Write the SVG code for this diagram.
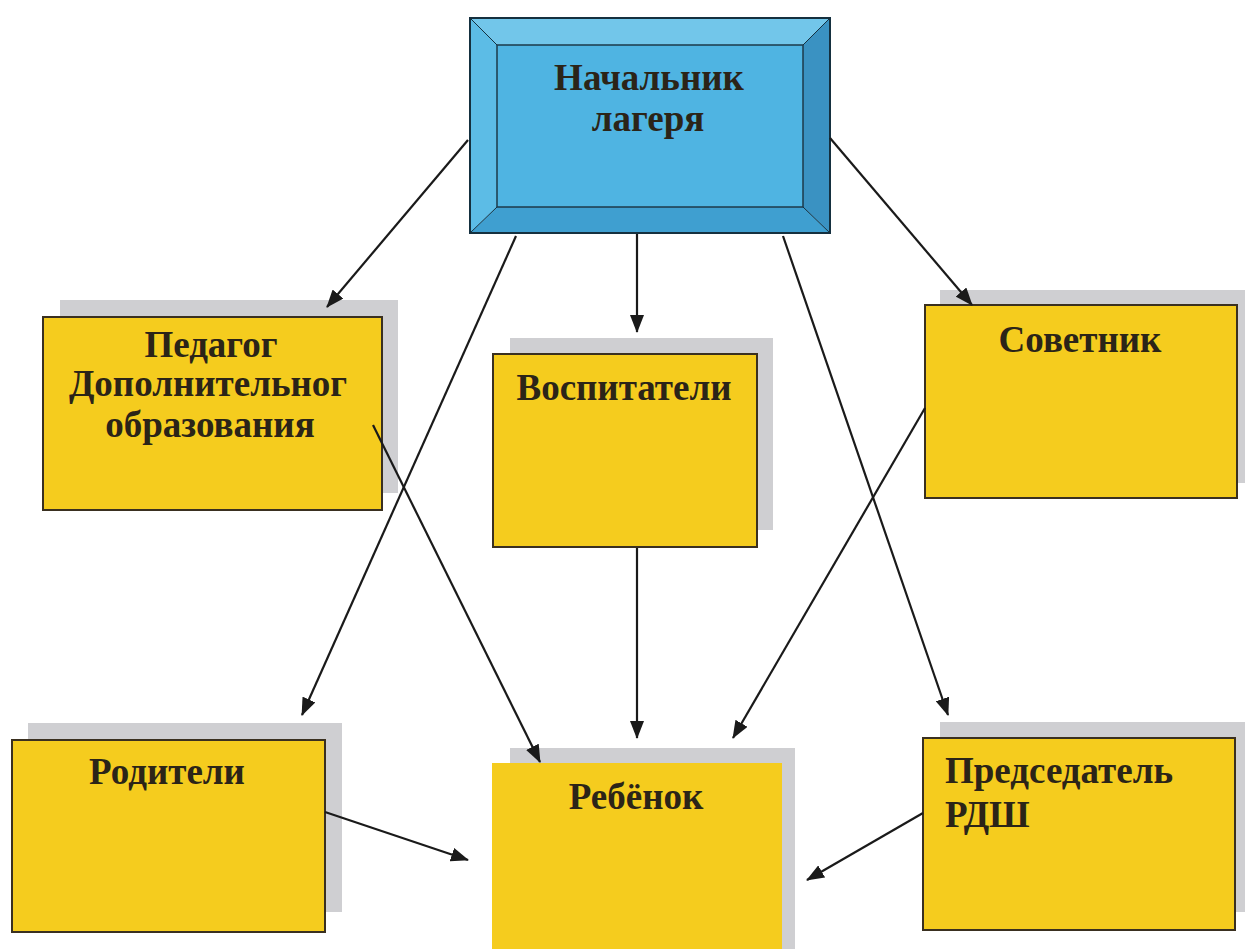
<svg xmlns="http://www.w3.org/2000/svg" width="1245" height="949" viewBox="0 0 1245 949">
  <defs>
    <marker id="arrow" viewBox="0 0 18 14" refX="17" refY="7" markerWidth="18" markerHeight="14" markerUnits="userSpaceOnUse" orient="auto">
      <path d="M0,0 L18,7 L0,14 z" fill="#1a1a1a"/>
    </marker>
  </defs>
  <style>
    .bg { fill: #ffffff; }
    .shadow { fill: #cfcfd2; }
    .box { fill: #f5cc1e; stroke: #3a3020; stroke-width: 2; }
    .box-nb { fill: #f5cc1e; }
    .lbl { font-family: "Liberation Serif", "Times New Roman", serif; font-weight: bold; font-size: 37px; fill: #2b2418; }
    .mid { text-anchor: middle; }
    .conn { stroke: #1a1a1a; stroke-width: 2.2; fill: none; marker-end: url(#arrow); }
  </style>
  <rect class="bg" x="0" y="0" width="1245" height="949"/>

  <g id="node-nachalnik">
    <polygon points="470,18 830,18 803,45 497,45" fill="#72c6ea"/>
    <polygon points="470,18 497,45 497,207 470,233" fill="#5cbce6"/>
    <polygon points="830,18 830,233 803,207 803,45" fill="#3a92c2"/>
    <polygon points="470,233 497,207 803,207 830,233" fill="#3f9fd0"/>
    <rect x="497" y="45" width="306" height="162" fill="#4fb4e2" stroke="#1d3a4a" stroke-width="1.5"/>
    <rect x="470" y="18" width="360" height="215" fill="none" stroke="#15303f" stroke-width="2"/>
    <line x1="470" y1="18" x2="497" y2="45" stroke="#15303f" stroke-width="1"/>
    <line x1="830" y1="18" x2="803" y2="45" stroke="#15303f" stroke-width="1"/>
    <line x1="470" y1="233" x2="497" y2="207" stroke="#15303f" stroke-width="1"/>
    <line x1="830" y1="233" x2="803" y2="207" stroke="#15303f" stroke-width="1"/>
    <text class="lbl mid" x="649" y="90">Начальник</text>
    <text class="lbl mid" x="648" y="131">лагеря</text>
  </g>

  <g id="node-pedagog">
    <rect class="shadow" x="60" y="300" width="338" height="193"/>
    <rect class="box" x="43" y="317" width="339" height="193"/>
    <text class="lbl mid" x="211" y="357">Педагог</text>
    <text class="lbl mid" x="208" y="396">Дополнительног</text>
    <text class="lbl mid" x="210" y="437">образования</text>
  </g>

  <g id="node-vospitateli">
    <rect class="shadow" x="510" y="338" width="263" height="192"/>
    <rect class="box" x="493" y="354" width="264" height="193"/>
    <text class="lbl mid" x="624" y="400">Воспитатели</text>
  </g>

  <g id="node-sovetnik">
    <rect class="shadow" x="940" y="290" width="305" height="193"/>
    <rect class="box" x="925" y="305" width="312" height="193"/>
    <text class="lbl mid" x="1080" y="352">Советник</text>
  </g>

  <g id="node-roditeli">
    <rect class="shadow" x="28" y="723" width="314" height="189"/>
    <rect class="box" x="12" y="740" width="313" height="192"/>
    <text class="lbl mid" x="167" y="784">Родители</text>
  </g>

  <g id="node-rebenok">
    <rect class="shadow" x="510" y="748" width="285" height="201"/>
    <rect class="box-nb" x="492" y="763" width="290" height="186"/>
    <text class="lbl mid" x="636" y="809">Ребёнок</text>
  </g>

  <g id="node-predsedatel">
    <rect class="shadow" x="940" y="722" width="305" height="190"/>
    <rect class="box" x="923" y="738" width="312" height="192"/>
    <text class="lbl" x="945" y="783">Председатель</text>
    <text class="lbl" x="945" y="827">РДШ</text>
  </g>

  <g id="connectors">
    <line class="conn" x1="468" y1="140" x2="327" y2="307"/>
    <line class="conn" x1="516" y1="236" x2="302" y2="715"/>
    <line class="conn" x1="637" y1="234" x2="637" y2="332"/>
    <line class="conn" x1="783" y1="236" x2="948" y2="715"/>
    <line class="conn" x1="830" y1="138" x2="972" y2="305"/>
    <line class="conn" x1="373" y1="425" x2="540" y2="762"/>
    <line class="conn" x1="637" y1="548" x2="637" y2="738"/>
    <line class="conn" x1="925" y1="408" x2="733" y2="738"/>
    <line class="conn" x1="325" y1="812" x2="468" y2="860"/>
    <line class="conn" x1="923" y1="813" x2="807" y2="880"/>
  </g>
</svg>
